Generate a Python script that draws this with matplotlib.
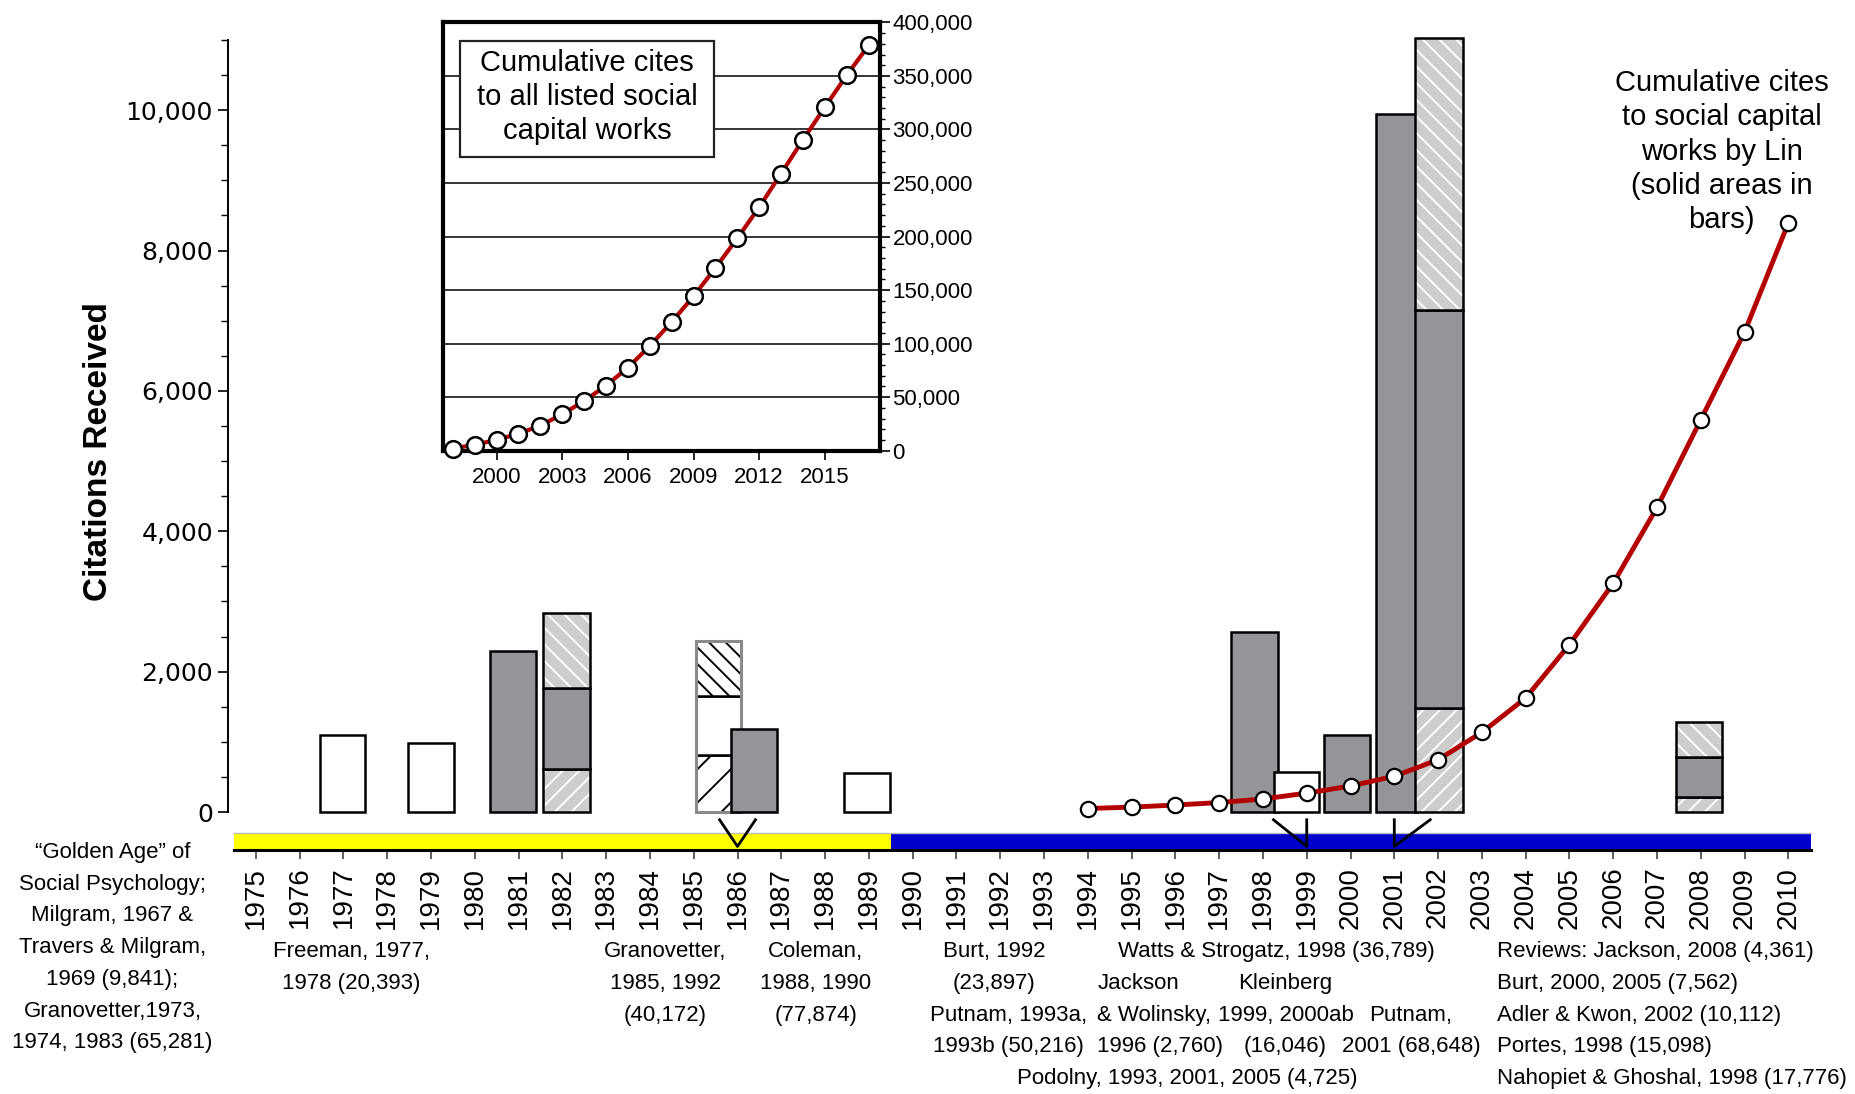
import matplotlib
matplotlib.use('Agg')
import matplotlib.pyplot as plt
from matplotlib.patches import Rectangle
from matplotlib.ticker import FuncFormatter, MultipleLocator, FixedLocator

plt.rcParams['font.family'] = ['Liberation Sans', 'DejaVu Sans']
plt.rcParams['hatch.linewidth'] = 1.4

# ---------------- data ----------------
# bars: publication year and stacked segment heights (bottom -> top)
bar_years = [1977, 1979, 1981, 1982, 1986, 1986, 1989, 1998, 1999, 2000, 2001, 2002, 2008]
seg_heights = [
    [1100],
    [980],
    [2290],
    [620, 1150, 1060],
    [810, 840, 790],
    [1190],
    [555],
    [2560],
    [570],
    [1095],
    [9950],
    [1480, 5680, 3870],
    [220, 570, 490],
]
# what kind of work each segment is ('lin' = solid areas, works by Lin)
seg_kinds = [
    ['open'],
    ['open'],
    ['lin'],
    ['lite_up', 'lin', 'lite_down'],
    ['line_up', 'open', 'dots'],
    ['lin'],
    ['open'],
    ['lin'],
    ['open'],
    ['lin'],
    ['lin'],
    ['lite_up', 'lin', 'lite_down'],
    ['lite_up', 'lin', 'lite_down'],
]

# cumulative cites to social capital works by Lin
lin_years = [1994, 1995, 1996, 1997, 1998, 1999, 2000, 2001, 2002,
             2003, 2004, 2005, 2006, 2007, 2008, 2009, 2010]
lin_cites = [50, 70, 100, 135, 185, 270, 370, 510, 745,
             1135, 1625, 2385, 3260, 4340, 5590, 6840, 8395]

# inset: cumulative cites to all listed social capital works
all_years = [1998, 1999, 2000, 2001, 2002, 2003, 2004, 2005, 2006, 2007,
             2008, 2009, 2010, 2011, 2012, 2013, 2014, 2015, 2016, 2017]
all_cites = [2000, 5600, 10000, 15900, 23400, 34000, 46400, 60700, 77600, 97800,
             120200, 144200, 170700, 198400, 227400, 258800, 290300, 320800, 350700, 378500]

year_ticks = list(range(1975, 2011))
inset_ticks = [2000, 2003, 2006, 2009, 2012, 2015]

left_note = ['\u201cGolden Age\u201d of', 'Social Psychology;', 'Milgram, 1967 &',
             'Travers & Milgram,', '1969 (9,841);', 'Granovetter,1973,', '1974, 1983 (65,281)']

# (text lines, x centre px, first row, alignment)
notes = [
    (['Freeman, 1977,', '1978 (20,393)'], 351.6, 0, 'center'),
    (['Granovetter,', '1985, 1992', '(40,172)'], 665.2, 0, 'center'),
    (['Coleman,', '1988, 1990', '(77,874)'], 815.6, 0, 'center'),
    (['Burt, 1992', '(23,897)'], 994.3, 0, 'center'),
    (['Putnam, 1993a,', '1993b (50,216)'], 1008.5, 2, 'center'),
    (['Watts & Strogatz, 1998 (36,789)'], 1276.0, 0, 'center'),
    (['Jackson', '& Wolinsky,', '1996 (2,760)'], 1097.3, 1, 'left'),
    (['Kleinberg', '1999, 2000ab', '(16,046)'], 1285.5, 1, 'center'),
    (['Putnam,', '2001 (68,648)'], 1411.0, 2, 'center'),
    (['Podolny, 1993, 2001, 2005 (4,725)'], 1187.3, 4, 'center'),
    (['Reviews: Jackson, 2008 (4,361)', 'Burt, 2000, 2005 (7,562)',
      'Adler & Kwon, 2002 (10,112)', 'Portes, 1998 (15,098)',
      'Nahopiet & Ghoshal, 1998 (17,776)'], 1497.4, 0, 'left'),
]

lin_note = ['Cumulative cites', 'to social capital', 'works by Lin', '(solid areas in', 'bars)']
inset_note = ['Cumulative cites', 'to all listed social', 'capital works']

# ---------------- layout ----------------
W, H = 1856, 1094
bar_shift = [-0.02, 0.0, -0.12, 0.09, -0.43, 0.37, -0.04, -0.2, -0.23, -0.08, 0.03, 0.03, -0.05]
bar_width = [1.04, 1.05, 1.05, 1.06, 1.04, 1.06, 1.05, 1.07, 1.04, 1.07, 0.91, 1.10, 1.05]
RED = '#b30000'
GRAY = '#939598'
LITE = '#cdcdcd'


def fx(px):
    return px / W


def fy(py):
    return 1 - py / H


fig = plt.figure(figsize=(W / 100, H / 100), dpi=100)

# ---- main axes ----
ax = fig.add_axes([fx(228.3), fy(850), (1810.7 - 228.3) / W, (850 - 40) / H])
ax.set_xlim(1974.37, 2010.51)
ax.set_ylim(-541, 11000)
ax.spines['top'].set_visible(False)
ax.spines['right'].set_visible(False)
ax.spines['left'].set_bounds(0, 11000)
ax.spines['left'].set_linewidth(1.4)
ax.spines['bottom'].set_bounds(1974.5, 2010.51)
ax.spines['bottom'].set_linewidth(2.2)

ax.set_yticks(range(0, 10001, 2000))
ax.yaxis.set_minor_locator(FixedLocator(range(500, 11001, 500)))
ax.yaxis.set_major_formatter(FuncFormatter(lambda v, p: f'{int(v):,}'))
ax.tick_params(axis='y', which='major', length=7, width=1.2, pad=4,
               labelsize=18, labelfontfamily='DejaVu Sans')
ax.tick_params(axis='y', which='minor', length=5, width=1.0)
ax.set_xticks(year_ticks)
ax.set_xticklabels([str(y) for y in year_ticks], rotation=90, fontsize=20)
ax.tick_params(axis='x', length=6.5, width=1.2, color='#444444', pad=5.5)

# era band under the bars
ax.add_patch(Rectangle((1974.5, -541), 1989.5 - 1974.5, 246, facecolor='#ffff00',
                       edgecolor='none', clip_on=False, zorder=1))
ax.add_patch(Rectangle((1989.5, -541), 2010.51 - 1989.5, 246, facecolor='#0000cc',
                       edgecolor='none', clip_on=False, zorder=1))
ax.plot([1974.5, 2010.51], [-295, -295], color='#bbbbbb', lw=1, zorder=1, clip_on=False)

# stacked bars
for i, yr in enumerate(bar_years):
    x = yr + bar_shift[i]
    w = bar_width[i]
    bottom = 0
    for h, kind in zip(seg_heights[i], seg_kinds[i]):
        if kind == 'open':
            ax.bar(x, h, w, bottom=bottom, color='white', edgecolor='black', lw=1.8,
                   zorder=2, clip_on=False)
        elif kind == 'lin':
            ax.bar(x, h, w, bottom=bottom, color=GRAY, edgecolor='black', lw=1.8,
                   zorder=2, clip_on=False)
        elif kind in ('lite_up', 'lite_down'):
            hatch = '//' if kind == 'lite_up' else '\\\\'
            ax.bar(x, h, w, bottom=bottom, color=LITE, edgecolor='white', hatch=hatch,
                   lw=0, zorder=2, clip_on=False)
            ax.bar(x, h, w, bottom=bottom, fill=False, edgecolor='black', lw=1.8,
                   zorder=2, clip_on=False)
        else:
            hatch = '/' if kind == 'line_up' else '\\\\'
            ax.bar(x, h, w, bottom=bottom, color='white', edgecolor='black', hatch=hatch,
                   lw=1.8, zorder=2, clip_on=False)
        bottom += h
    if 'dots' in seg_kinds[i]:
        ax.bar(x, bottom, w, fill=False, edgecolor='#8a8a8a', lw=2.2, zorder=2)

# pointers from bars down to the year band
ptr_top, ptr_bot = -110, -490
ax.plot([1985.59, 1986.0, 1986.41], [ptr_top, ptr_bot, ptr_top], color='black', lw=2, zorder=3)
ax.plot([1998.24, 1999.0, 1999.0], [ptr_top, ptr_bot, ptr_top], color='black', lw=2, zorder=3)
ax.plot([2001.0, 2001.0, 2001.82], [ptr_top, ptr_bot, ptr_top], color='black', lw=2, zorder=3)

# cumulative Lin line
ax.plot(lin_years, lin_cites, color=RED, lw=3.5, marker='o', ms=11, mfc='white',
        mec='black', mew=1.6, zorder=5, clip_on=False)

fig.text(fx(99), fy(452), 'Citations Received', rotation=90, ha='center', va='center',
         fontsize=24, fontweight='bold')

# ---- inset ----
ins = fig.add_axes([fx(442.7), fy(450.7), (880 - 442.7) / W, (450.7 - 22.4) / H])
ins.plot(all_years, all_cites, color=RED, lw=3, marker='o', ms=12, mfc='white',
         mec='black', mew=1.8, zorder=4, clip_on=False)
ins.set_xlim(1997.54, 2017.52)
ins.set_ylim(0, 400000)
ins.yaxis.tick_right()
ins.set_yticks(range(0, 400001, 50000))
ins.yaxis.set_minor_locator(MultipleLocator(10000))
ins.yaxis.set_major_formatter(FuncFormatter(lambda v, p: f'{int(v):,}'))
ins.grid(axis='y', color='black', lw=1.1)
ins.set_axisbelow(True)
ins.set_xticks(inset_ticks)
ins.tick_params(axis='y', which='major', length=7, width=1.2, pad=2, labelsize=16)
ins.tick_params(axis='y', which='minor', length=3.5, width=1.0)
ins.tick_params(axis='x', length=6.5, width=1.2, pad=5, labelsize=16)
for sp in ins.spines.values():
    sp.set_linewidth(3)
ins.add_patch(Rectangle((0.0407, 0.6869), 0.6204 - 0.0407, 0.9577 - 0.6869,
                        transform=ins.transAxes, facecolor='white', edgecolor='#222222',
                        lw=1.6, zorder=3))
for k, line in enumerate(inset_note):
    fig.text(fx(587.1), fy(62.7 + 34.3 * k), line, ha='center', va='center', fontsize=21)

# ---- annotations ----
for k, line in enumerate(lin_note):
    fig.text(fx(1721.7), fy(82.9 + 34.3 * k), line, ha='center', va='center', fontsize=21)

for k, line in enumerate(left_note):
    fig.text(fx(112.5), fy(852.3 + 31.75 * k), line, ha='center', va='center', fontsize=16)

for lines, xc, row, align in notes:
    for k, line in enumerate(lines):
        fig.text(fx(xc), fy(951.7 + 31.7 * (row + k)), line, ha=align, va='center', fontsize=16)

fig.savefig('out.png', dpi=100)
